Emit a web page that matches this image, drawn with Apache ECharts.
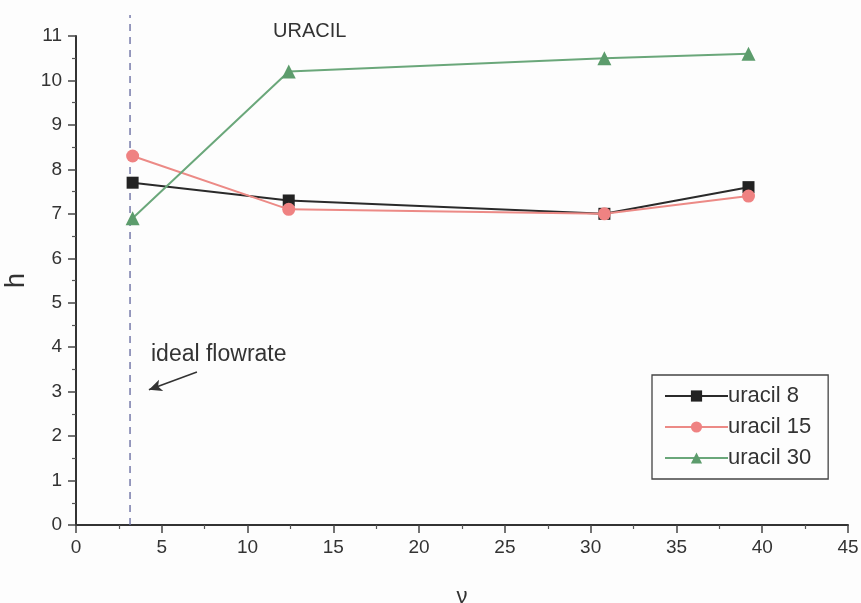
<!DOCTYPE html>
<html>
<head>
<meta charset="utf-8">
<script src="https://cdn.jsdelivr.net/npm/echarts@6/dist/echarts.min.js"></script>
<style>
  html, body { margin: 0; padding: 0; background: #fff; overflow: hidden; }
  #chart { width: 861px; height: 603px; }
</style>
</head>
<body>
<div id="chart"></div>
<script>
// Flow velocity (ν) for each run
const flowRates = [3.3, 12.4, 30.8, 39.2];
// Plate height (h) for each uracil run
const uracil8 = [7.7, 7.3, 7.0, 7.6];
const uracil15 = [8.3, 7.1, 7.0, 7.4];
const uracil30 = [6.9, 10.2, 10.5, 10.6];
const seriesNames = ['uracil 8', 'uracil 15', 'uracil 30'];
// Ideal flowrate marker (vertical dashed line) and its pointer arrow
const idealFlow = 3.15;
const idealLineSpan = [0, 11.47];
const arrowFrom = [7.05, 3.44];
const arrowTo = [4.25, 3.04];

const pairs = (ys) => flowRates.map((x, i) => [x, ys[i]]);

const chart = echarts.init(document.getElementById('chart'));
const font = 'Liberation Sans, Arial, sans-serif';

chart.setOption({
  animation: false,
  backgroundColor: '#fdfdfd',
  title: {
    text: 'URACIL',
    left: 268, top: 16,
    textStyle: { fontFamily: font, fontSize: 20, fontWeight: 'normal', color: '#333' }
  },
  grid: { left: 76, right: 13, top: 36, bottom: 78, outerBoundsMode: 'none', containLabel: false },
  legend: {
    orient: 'vertical',
    left: 652, top: 375,
    padding: [9, 17, 9, 12],
    itemGap: 7,
    itemWidth: 63, itemHeight: 14,
    borderColor: '#444', borderWidth: 1.3,
    textStyle: { fontFamily: font, fontSize: 22, lineHeight: 24, color: '#333', padding: [0, 0, 0, -5] },
    data: seriesNames
  },
  xAxis: {
    type: 'value', min: 0, max: 45, interval: 5,
    name: 'ν', nameLocation: 'middle', nameGap: 61,
    nameTextStyle: { fontFamily: font, fontSize: 22, color: '#333' },
    axisLine: { lineStyle: { color: '#333', width: 2 } },
    axisTick: { inside: false, length: 8, lineStyle: { color: '#444', width: 1.5 } },
    minorTick: { show: true, splitNumber: 2, length: 4, lineStyle: { color: '#555', width: 1.2 } },
    axisLabel: { fontFamily: font, fontSize: 19, color: '#333', margin: 13 },
    splitLine: { show: false }
  },
  yAxis: {
    type: 'value', min: 0, max: 11, interval: 1,
    name: 'h', nameLocation: 'middle', nameGap: 44, nameRotate: 90,
    nameTextStyle: { fontFamily: font, fontSize: 27, color: '#333' },
    axisLine: { show: true, lineStyle: { color: '#333', width: 2 } },
    axisTick: { show: true, inside: false, length: 8, lineStyle: { color: '#444', width: 1.5 } },
    minorTick: { show: true, splitNumber: 2, length: 4, lineStyle: { color: '#555', width: 1.2 } },
    axisLabel: { fontFamily: font, fontSize: 19, color: '#333', margin: 14 },
    splitLine: { show: false }
  },
  graphic: [{
    type: 'text', left: 151, top: 343,
    style: { text: 'ideal flowrate', font: '23px ' + font, fill: '#333' }
  }],
  series: [
    {
      name: 'ideal flowrate', type: 'line',
      data: idealLineSpan.map((y) => [idealFlow, y]),
      symbol: 'none', silent: true, clip: false, z: 1,
      lineStyle: { type: [7, 6], color: '#6c70a4', width: 1.4 }
    },
    {
      name: 'uracil 8', type: 'line', data: pairs(uracil8),
      symbol: 'rect', symbolSize: 12,
      itemStyle: { color: '#222' },
      lineStyle: { color: '#2a2a2a', width: 2 },
      clip: false
    },
    {
      name: 'uracil 15', type: 'line', data: pairs(uracil15),
      symbol: 'circle', symbolSize: 13,
      itemStyle: { color: '#ef8282' },
      lineStyle: { color: '#ec8a86', width: 2 },
      clip: false,
      markLine: {
        silent: true, symbol: ['none', 'arrow'], symbolSize: [9, 13], label: { show: false },
        lineStyle: { type: 'solid', color: '#333', width: 1.6 },
        data: [[{ coord: arrowFrom }, { coord: arrowTo }]]
      }
    },
    {
      name: 'uracil 30', type: 'line', data: pairs(uracil30),
      symbol: 'triangle', symbolSize: 14,
      itemStyle: { color: '#5c9c6c' },
      lineStyle: { color: '#6aa77a', width: 2 },
      clip: false
    }
  ]
});
</script>
</body>
</html>
